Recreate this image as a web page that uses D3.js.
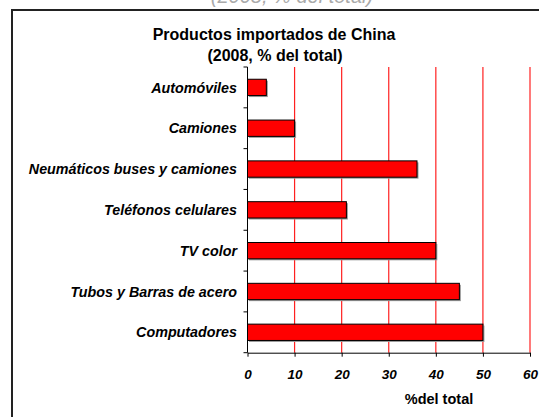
<!DOCTYPE html>
<html>
<head>
<meta charset="utf-8">
<script src="https://cdn.jsdelivr.net/npm/d3@7"></script>
<style>
  body { margin: 0; background: #fff; }
  svg { display: block; font-family: "Liberation Sans", Arial, sans-serif; }
</style>
</head>
<body>
<script>
// productos y porcentajes (2008)
var productos = ["Automóviles", "Camiones", "Neumáticos buses y camiones", "Teléfonos celulares",
                 "TV color", "Tubos y Barras de acero", "Computadores"];
var porcentajes = [4, 10, 36, 21, 40, 45, 50];
var ticksX = [0, 10, 20, 30, 40, 50, 60];

var datos = productos.map(function(p, i) { return { nombre: p, valor: porcentajes[i] }; });

var W = 539, H = 417;
var marges = { top: 67, left: 247.5, right: 9, bottom: 64 };

var svg = d3.select("body").append("svg")
    .attr("width", W)
    .attr("height", H);

// texto cortado arriba (resto del título de la diapositiva)
svg.append("text")
    .attr("x", 292)
    .attr("y", 3)
    .attr("text-anchor", "middle")
    .attr("font-size", 20)
    .attr("font-style", "italic")
    .attr("fill", "#aaa")
    .text("(2008, % del total)");

// marco del gráfico
svg.append("rect")
    .attr("x", 12)
    .attr("y", 10)
    .attr("width", 560)
    .attr("height", 440)
    .attr("fill", "white")
    .attr("stroke", "#222")
    .attr("stroke-width", 2);

// titulo
svg.append("text")
    .attr("x", 274)
    .attr("y", 40)
    .attr("text-anchor", "middle")
    .attr("font-size", 16)
    .attr("font-weight", "bold")
    .text("Productos importados de China");
svg.append("text")
    .attr("x", 275)
    .attr("y", 61)
    .attr("text-anchor", "middle")
    .attr("font-size", 16)
    .attr("font-weight", "bold")
    .text("(2008, % del total)");

var x = d3.scaleLinear()
    .domain([0, 60])
    .range([marges.left, 530]);

var y = d3.scaleBand()
    .domain(productos)
    .range([marges.top, 352.7])
    .paddingInner(0.6)
    .paddingOuter(0.3);

var pas = y.step();
var haut = y.range()[0], bas = y.range()[1];

// lignes de grille rouges
svg.selectAll(".grille").data(ticksX.slice(1))
    .enter().append("line")
    .attr("class", "grille")
    .attr("x1", d => x(d))
    .attr("x2", d => x(d))
    .attr("y1", haut)
    .attr("y2", bas)
    .attr("stroke", "#ff2020")
    .attr("stroke-width", 1.2);

// ombres des barres
svg.selectAll(".ombre").data(datos)
    .enter().append("rect")
    .attr("class", "ombre")
    .attr("x", x(0) + 1.5)
    .attr("y", d => y(d.nombre) + 1.5)
    .attr("width", d => x(d.valor) - x(0))
    .attr("height", y.bandwidth())
    .attr("fill", "#999");

// barres
svg.selectAll(".barre").data(datos)
    .enter().append("rect")
    .attr("class", "barre")
    .attr("x", x(0))
    .attr("y", d => y(d.nombre))
    .attr("width", d => x(d.valor) - x(0))
    .attr("height", y.bandwidth())
    .attr("fill", "#ff0000")
    .attr("stroke", "#000")
    .attr("stroke-width", 1);

// axe Y : ligne + graduations aux limites des catégories
svg.append("line")
    .attr("x1", x(0)).attr("x2", x(0))
    .attr("y1", haut).attr("y2", bas)
    .attr("stroke", "#000");

svg.selectAll(".tickY").data(d3.range(productos.length + 1))
    .enter().append("line")
    .attr("class", "tickY")
    .attr("x1", x(0) - 4)
    .attr("x2", x(0))
    .attr("y1", i => haut + i * pas)
    .attr("y2", i => haut + i * pas)
    .attr("stroke", "#000");

svg.selectAll(".etiquette").data(datos)
    .enter().append("text")
    .attr("class", "etiquette")
    .attr("x", 237)
    .attr("y", d => y(d.nombre) + y.bandwidth() / 2)
    .attr("dy", "0.36em")
    .attr("text-anchor", "end")
    .attr("font-size", 14.3)
    .attr("font-weight", "bold")
    .attr("font-style", "italic")
    .text(d => d.nombre);

// axe X
var axeX = d3.axisBottom(x)
    .tickValues(ticksX)
    .tickSize(4)
    .tickSizeOuter(0);

var gX = svg.append("g")
    .attr("transform", "translate(0," + bas + ")")
    .call(axeX);
gX.select(".domain").attr("stroke", "#000");
gX.selectAll("line").attr("stroke", "#000");
gX.selectAll("text")
    .attr("font-size", 13.5)
    .attr("font-weight", "bold")
    .attr("font-style", "italic")
    .attr("font-family", "'Liberation Sans', Arial, sans-serif")
    .attr("fill", "#000")
    .attr("y", 26)
    .attr("dy", null);

svg.append("text")
    .attr("x", 439)
    .attr("y", 404)
    .attr("text-anchor", "middle")
    .attr("font-size", 14.5)
    .attr("font-weight", "bold")
    .text("%del total");
</script>
</body>
</html>
